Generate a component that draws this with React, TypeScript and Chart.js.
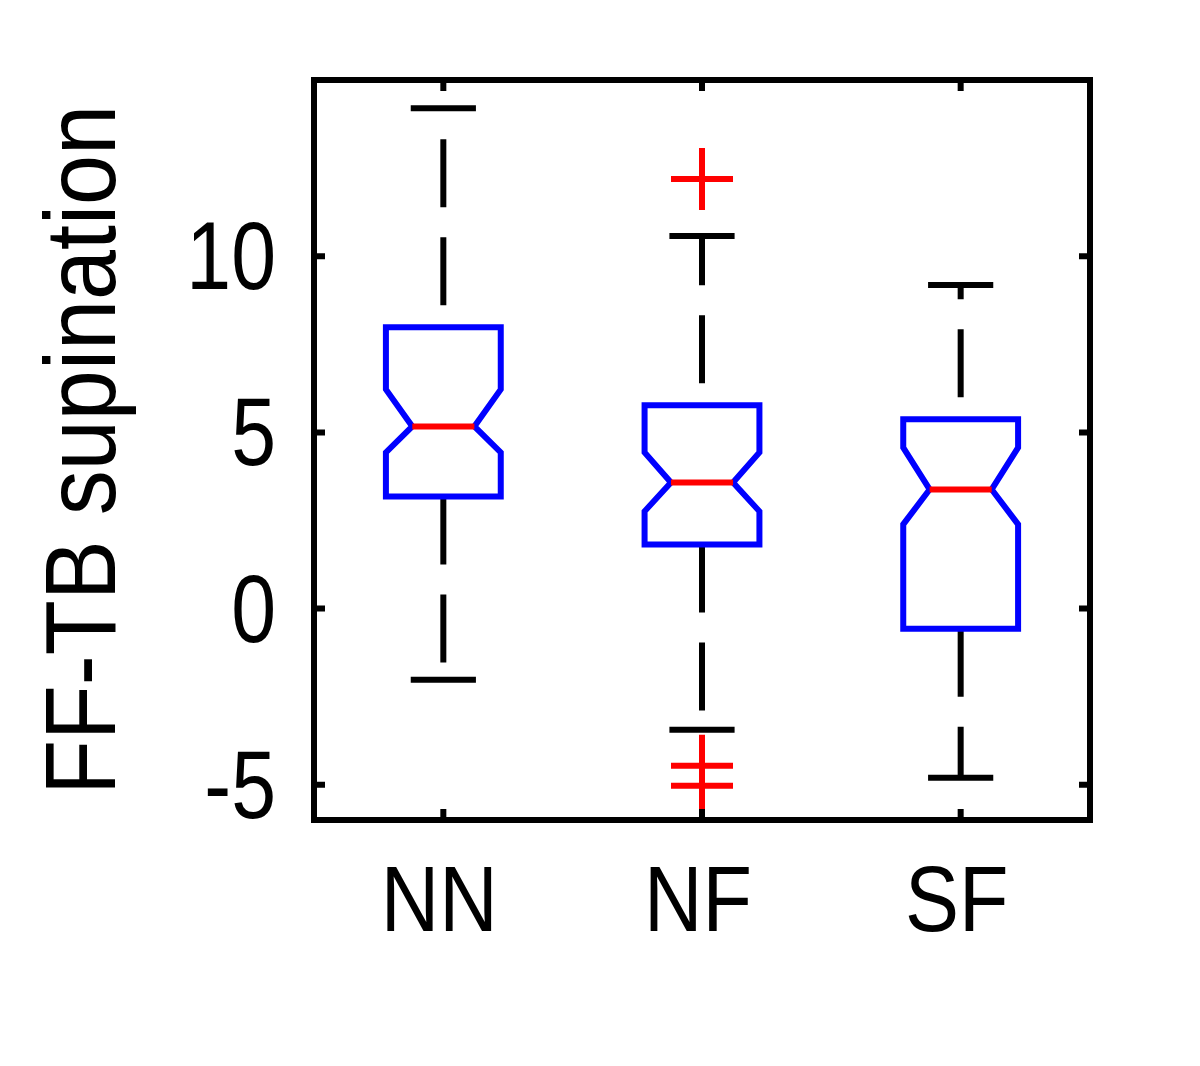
import React, { useEffect, useRef } from "react";
import { Chart, registerables } from "chart.js";

Chart.register(...registerables);

const categories = ["NN", "NF", "SF"];
const q1Values = [3.18, 1.82, -0.57];
const medianValues = [5.17, 3.58, 3.38];
const q3Values = [7.98, 5.77, 5.37];
const notchLow = [4.43, 2.76, 2.39];
const notchHigh = [6.22, 4.43, 4.57];
const whiskerLow = [-2.02, -3.44, -4.8];
const whiskerHigh = [14.2, 10.57, 9.18];
const outlierCategory = [2, 2, 2];
const outlierValues = [12.19, -4.46, -5.03];
const yTicks = [-5, 0, 5, 10];
const yTickLabels = ["-5", "0", "5", "10"];
const yTitle = "FF-TB supination";
const yMin = -6;
const yMax = 15;

const FONT = "'Liberation Sans', Arial, Helvetica, sans-serif";

const boxPlugin = {
  id: "notchedBoxes",
  beforeDatasetsDraw(chart: any) {
    const ctx = chart.ctx as CanvasRenderingContext2D;
    const xs = chart.scales.x;
    const ys = chart.scales.y;
    const unit = xs.getPixelForValue(2) - xs.getPixelForValue(1);
    const halfBox = unit * 0.222;
    const halfNotch = unit * 0.12;
    const halfCap = unit * 0.126;
    ctx.save();
    categories.forEach((_, i) => {
      const cx = xs.getPixelForValue(i + 1);
      const yq1 = ys.getPixelForValue(q1Values[i]);
      const yq3 = ys.getPixelForValue(q3Values[i]);
      const ymed = ys.getPixelForValue(medianValues[i]);
      const ynl = ys.getPixelForValue(notchLow[i]);
      const ynh = ys.getPixelForValue(notchHigh[i]);
      const ywl = ys.getPixelForValue(whiskerLow[i]);
      const ywh = ys.getPixelForValue(whiskerHigh[i]);

      ctx.strokeStyle = "#000";
      ctx.lineWidth = 6;
      ctx.lineCap = "butt";
      ctx.setLineDash([68, 30]);
      ctx.lineDashOffset = 76;
      ctx.beginPath();
      ctx.moveTo(cx, yq3);
      ctx.lineTo(cx, ywh);
      ctx.stroke();
      ctx.lineDashOffset = 0;
      ctx.beginPath();
      ctx.moveTo(cx, yq1);
      ctx.lineTo(cx, ywl);
      ctx.stroke();
      ctx.setLineDash([]);

      ctx.beginPath();
      ctx.moveTo(cx - halfCap, ywh);
      ctx.lineTo(cx + halfCap, ywh);
      ctx.moveTo(cx - halfCap, ywl);
      ctx.lineTo(cx + halfCap, ywl);
      ctx.stroke();

      ctx.strokeStyle = "#0000ff";
      ctx.lineWidth = 6;
      ctx.lineJoin = "miter";
      ctx.beginPath();
      ctx.moveTo(cx - halfBox, yq3);
      ctx.lineTo(cx + halfBox, yq3);
      ctx.lineTo(cx + halfBox, ynh);
      ctx.lineTo(cx + halfNotch, ymed);
      ctx.lineTo(cx + halfBox, ynl);
      ctx.lineTo(cx + halfBox, yq1);
      ctx.lineTo(cx - halfBox, yq1);
      ctx.lineTo(cx - halfBox, ynl);
      ctx.lineTo(cx - halfNotch, ymed);
      ctx.lineTo(cx - halfBox, ynh);
      ctx.closePath();
      ctx.stroke();

      ctx.strokeStyle = "#ff0000";
      ctx.beginPath();
      ctx.moveTo(cx - halfNotch, ymed);
      ctx.lineTo(cx + halfNotch, ymed);
      ctx.stroke();
    });
    ctx.restore();
  },
  afterDraw(chart: any) {
    const ctx = chart.ctx as CanvasRenderingContext2D;
    const a = chart.chartArea;
    const xs = chart.scales.x;
    const ys = chart.scales.y;
    ctx.save();
    ctx.strokeStyle = "#000";
    ctx.lineWidth = 6;
    ctx.lineJoin = "miter";
    ctx.beginPath();
    yTicks.forEach((v) => {
      const y = ys.getPixelForValue(v);
      ctx.moveTo(a.left, y);
      ctx.lineTo(a.left + 11, y);
      ctx.moveTo(a.right, y);
      ctx.lineTo(a.right - 11, y);
    });
    categories.forEach((_, i) => {
      const x = xs.getPixelForValue(i + 1);
      ctx.moveTo(x, a.top);
      ctx.lineTo(x, a.top + 11);
      ctx.moveTo(x, a.bottom);
      ctx.lineTo(x, a.bottom - 11);
    });
    ctx.stroke();
    ctx.strokeRect(a.left, a.top, a.right - a.left, a.bottom - a.top);

    // text labels (condensed like the original's screen font)
    ctx.fillStyle = "#000";
    ctx.textBaseline = "alphabetic";
    ctx.font = `96px ${FONT}`;
    ctx.textAlign = "right";
    yTicks.forEach((v, i) => {
      const y = ys.getPixelForValue(v);
      ctx.save();
      ctx.translate(a.left - 38, y + 33);
      ctx.scale(0.84, 1);
      ctx.fillText(yTickLabels[i], 0, 0);
      ctx.restore();
    });
    ctx.font = `92px ${FONT}`;
    ctx.textAlign = "center";
    categories.forEach((c, i) => {
      const x = xs.getPixelForValue(i + 1);
      ctx.save();
      ctx.translate(x - 4, a.bottom + 111);
      ctx.scale(0.88, 1);
      ctx.fillText(c, 0, 0);
      ctx.restore();
    });
    ctx.font = `100px ${FONT}`;
    ctx.save();
    ctx.translate(115, (a.top + a.bottom) / 2);
    ctx.rotate(-Math.PI / 2);
    ctx.scale(0.9, 1);
    ctx.textAlign = "center";
    ctx.fillText(yTitle, 0, 0);
    ctx.restore();
    ctx.restore();
  },
};

export default function App() {
  const canvasRef = useRef<HTMLCanvasElement | null>(null);

  useEffect(() => {
    if (!canvasRef.current) return;
    const chart = new Chart(canvasRef.current, {
      type: "scatter",
      data: {
        datasets: [
          {
            label: "outliers",
            data: outlierValues.map((v, i) => ({ x: outlierCategory[i], y: v })),
            pointStyle: "cross",
            pointRadius: 31,
            pointHoverRadius: 31,
            borderColor: "#ff0000",
            backgroundColor: "#ff0000",
            borderWidth: 6,
            clip: false as any,
          },
        ],
      },
      options: {
        animation: false,
        responsive: false,
        events: [],
        layout: { padding: { left: 0, right: 110, top: 80, bottom: 0 } },
        plugins: {
          legend: { display: false },
          tooltip: { enabled: false },
          title: { display: false },
        },
        scales: {
          x: {
            type: "linear",
            min: 0.5,
            max: 3.5,
            grid: { display: false, drawTicks: false },
            border: { display: false },
            afterBuildTicks: (scale: any) => {
              scale.ticks = categories.map((_, i) => ({ value: i + 1 }));
            },
            afterFit: (scale: any) => {
              scale.height = 246;
            },
            ticks: { display: false },
          },
          y: {
            type: "linear",
            min: yMin,
            max: yMax,
            grid: { display: false, drawTicks: false },
            border: { display: false },
            afterBuildTicks: (scale: any) => {
              scale.ticks = yTicks.map((v) => ({ value: v }));
            },
            afterFit: (scale: any) => {
              scale.width = 314;
            },
            ticks: { display: false },
          },
        },
      },
      plugins: [boxPlugin],
    });
    return () => chart.destroy();
  }, []);

  return (
    <div style={{ position: "fixed", left: 0, top: 0, width: 1200, height: 1066, background: "#fff" }}>
      <canvas ref={canvasRef} width={1200} height={1066} style={{ display: "block", width: 1200, height: 1066 }} />
    </div>
  );
}
